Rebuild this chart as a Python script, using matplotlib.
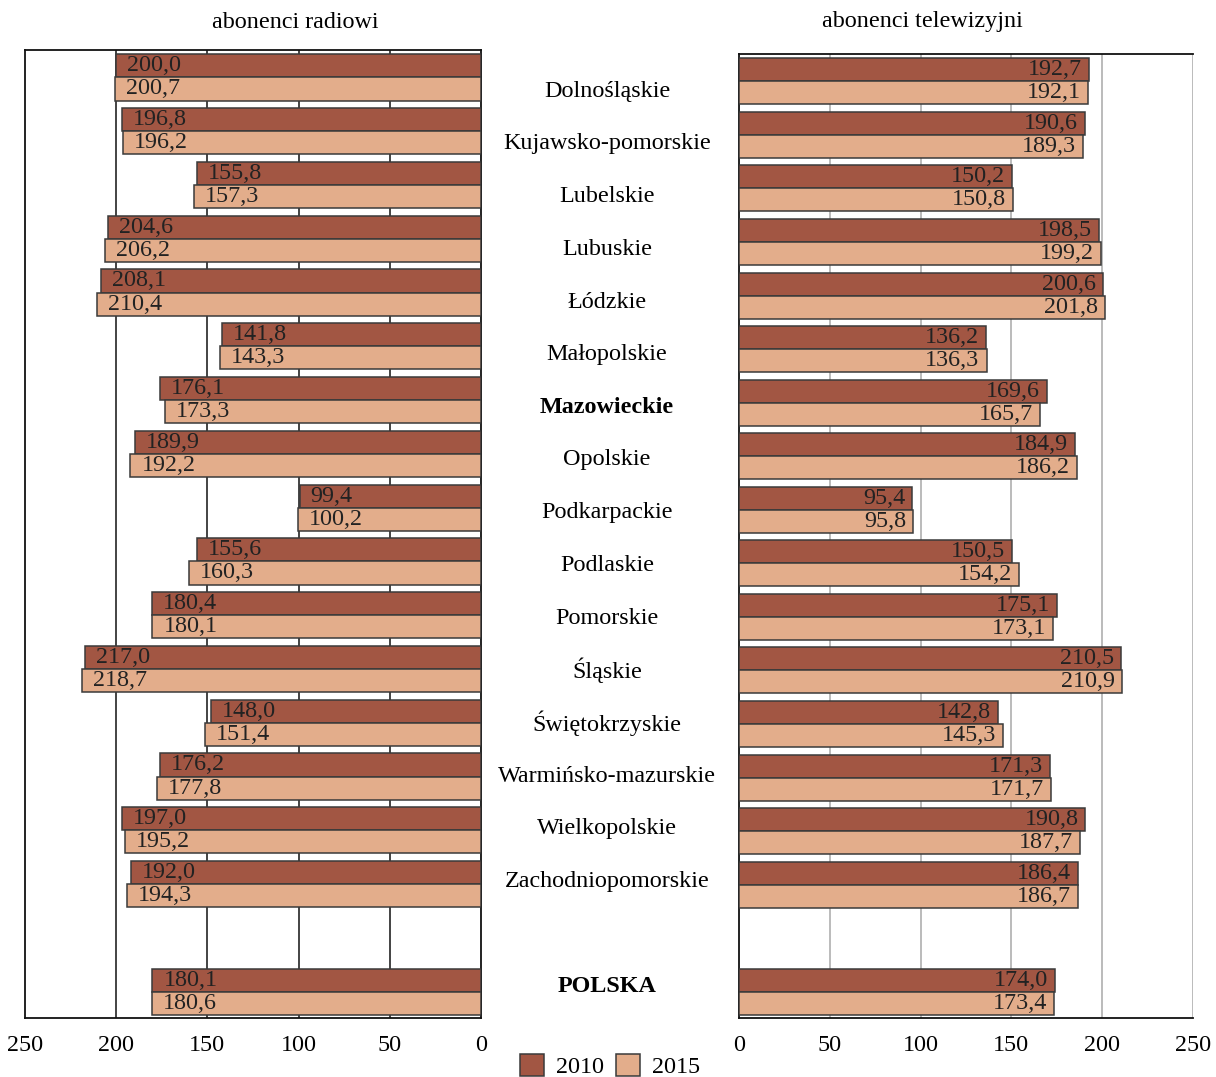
import matplotlib
matplotlib.use("Agg")
import matplotlib.pyplot as plt
import numpy as np

plt.rcParams['font.family'] = ['Liberation Serif', 'DejaVu Serif']

regions = ["Dolnośląskie", "Kujawsko-pomorskie", "Lubelskie", "Lubuskie", "Łódzkie",
           "Małopolskie", "Mazowieckie", "Opolskie", "Podkarpackie", "Podlaskie",
           "Pomorskie", "Śląskie", "Świętokrzyskie", "Warmińsko-mazurskie",
           "Wielkopolskie", "Zachodniopomorskie", "POLSKA"]
bold_labels = ["Mazowieckie", "POLSKA"]

radio_2010 = [200.0, 196.8, 155.8, 204.6, 208.1, 141.8, 176.1, 189.9, 99.4, 155.6,
              180.4, 217.0, 148.0, 176.2, 197.0, 192.0, 180.1]
radio_2015 = [200.7, 196.2, 157.3, 206.2, 210.4, 143.3, 173.3, 192.2, 100.2, 160.3,
              180.1, 218.7, 151.4, 177.8, 195.2, 194.3, 180.6]
tv_2010 = [192.7, 190.6, 150.2, 198.5, 200.6, 136.2, 169.6, 184.9, 95.4, 150.5,
           175.1, 210.5, 142.8, 171.3, 190.8, 186.4, 174.0]
tv_2015 = [192.1, 189.3, 150.8, 199.2, 201.8, 136.3, 165.7, 186.2, 95.8, 154.2,
           173.1, 210.9, 145.3, 171.7, 187.7, 186.7, 173.4]

series_labels = ["2010", "2015"]
xticks = [0, 50, 100, 150, 200, 250]
titles = ["abonenci radiowi", "abonenci telewizyjni"]

c2010 = "#A25643"
c2015 = "#E3AD8B"
edge = "#3a3a3a"
fs = 17.4

# positions: 16 regions then a gap before POLSKA
pos = np.array(list(range(16)) + [17], dtype=float)
bh = 0.43

W, H = 1216, 1077
fig = plt.figure(figsize=(W / 100, H / 100), dpi=100)

axL = fig.add_axes([25 / W, 1 - 1018 / H, (481 - 25) / W, (1018 - 50) / H])
axR = fig.add_axes([739 / W, 1 - 1018 / H, (1193 - 739) / W, (1018 - 54) / H])
# middle (invisible) axes holding the region names
axM = fig.add_axes([481 / W, 1 - 1013 / H, (739 - 481) / W, (1013 - 65) / H])
axM.set_axis_off()
axM.set_xlim(0, 1)
axM.set_ylim(17.5, -0.5)

ylim = (17.49, -0.51)

def fmt(v):
    return f"{v:.1f}".replace(".", ",")

for ax, d10, d15, side in [(axL, radio_2010, radio_2015, "L"), (axR, tv_2010, tv_2015, "R")]:
    ax.barh(pos - bh / 2, d10, height=bh, color=c2010, edgecolor=edge, linewidth=1.1,
            zorder=3, label=series_labels[0])
    ax.barh(pos + bh / 2, d15, height=bh, color=c2015, edgecolor=edge, linewidth=1.1,
            zorder=3, label=series_labels[1])
    for p, v10, v15 in zip(pos, d10, d15):
        for yy, v in [(p - bh / 2, v10), (p + bh / 2, v15)]:
            if side == "L":
                ax.annotate(fmt(v), (v, yy), xytext=(11, 0), textcoords="offset pixels",
                            ha="left", va="center", fontsize=fs, color="#222222", zorder=4)
            else:
                ax.annotate(fmt(v), (v, yy), xytext=(-7, 0), textcoords="offset pixels",
                            ha="right", va="center", fontsize=fs, color="#222222", zorder=4)
    ax.set_xlim(0, 250)
    ax.set_ylim(*ylim)
    ax.set_yticks([])
    ax.set_xticks(xticks)
    ax.set_xticklabels([str(t) for t in xticks], fontsize=fs)
    ax.tick_params(axis="x", length=0, pad=12)

axL.invert_xaxis()
for t in [50, 100, 150, 200]:
    axL.axvline(t, color="#111111", linewidth=1.1, zorder=1)
for s in axL.spines.values():
    s.set_color("#111111")
    s.set_linewidth(1.3)

for t in [50, 100, 150, 200, 250]:
    axR.axvline(t, color="#b5b5b5", linewidth=1.3, zorder=1)
axR.spines["right"].set_visible(False)
for s in ["left", "top", "bottom"]:
    axR.spines[s].set_color("#111111")
    axR.spines[s].set_linewidth(1.3)

# Titles
fig.text(295 / W, 1 - 22 / H, titles[0], ha="center", va="center", fontsize=fs)
fig.text(922 / W, 1 - 22 / H, titles[1], ha="center", va="center", fontsize=fs)

# Region labels in the middle
for p, name in zip(pos, regions):
    axM.text((607 - 481) / (739 - 481), p, name, ha="center", va="center",
             fontsize=fs, fontweight="bold" if name in bold_labels else "normal",
             clip_on=False)

# Legend
handles, labels = axL.get_legend_handles_labels()
fig.legend(handles, labels, loc="center", bbox_to_anchor=(610 / W, 1 - 1066 / H), ncol=2,
           frameon=False, fontsize=fs, handlelength=1.0, handleheight=1.0,
           handletextpad=0.5, columnspacing=0.5, borderpad=0)

fig.savefig("out.png", dpi=100)
